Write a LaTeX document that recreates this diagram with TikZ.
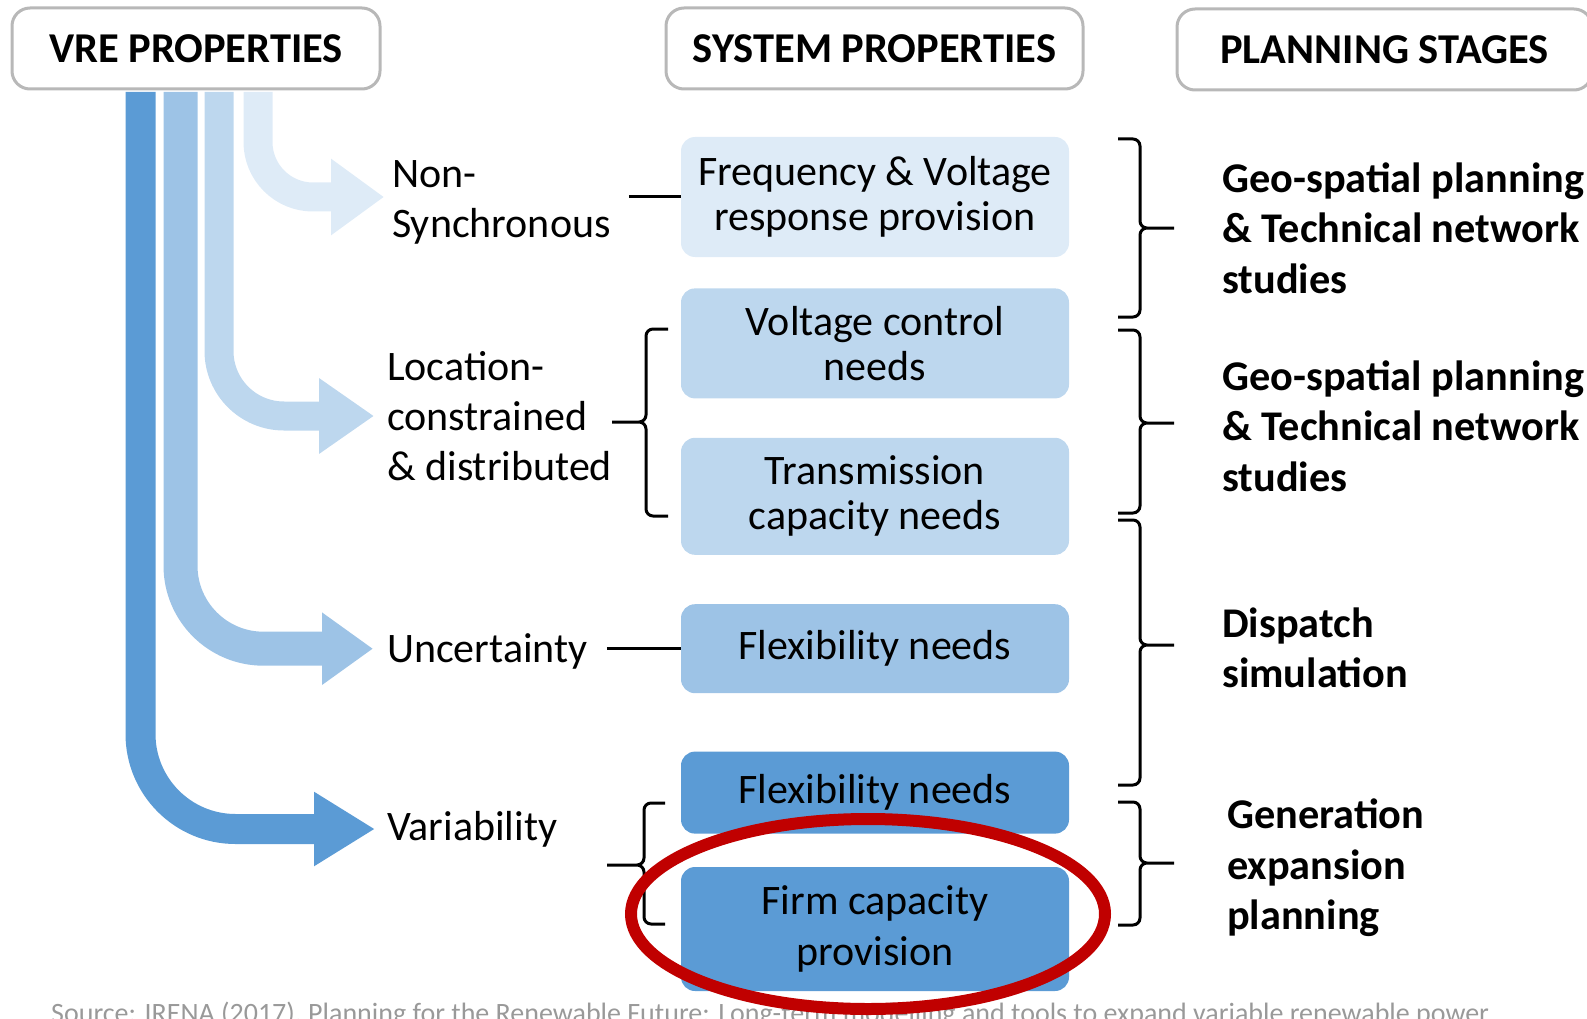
\documentclass[tikz,border=0pt]{standalone}
\usepackage{fontspec}
\setmainfont{Carlito}
\usetikzlibrary{arrows.meta,positioning}

\definecolor{blueA}{HTML}{5B9BD5}
\definecolor{blueB}{HTML}{9DC3E6}
\definecolor{blueC}{HTML}{BDD7EE}
\definecolor{blueD}{HTML}{DEEBF7}
\definecolor{ringred}{HTML}{C00000}

\begin{document}
\begin{tikzpicture}[x=1pt, y=-1pt, >=latex]
        \tikzstyle{header} = [draw=black!28, line width=3pt, rounded corners=18pt, fill=white, minimum height=81pt, inner sep=0pt, font=\fontsize{42.5}{50}\selectfont\bfseries]
        \tikzstyle{need} = [rounded corners=14pt, minimum width=388pt, inner sep=0pt, align=center, font=\fontsize{42}{45}\selectfont]
        \tikzstyle{prop} = [anchor=west, align=left, inner sep=0pt, font=\fontsize{42}{50}\selectfont]
        \tikzstyle{stage} = [anchor=west, align=left, inner sep=0pt, font=\fontsize{42.3}{50.5}\selectfont\bfseries]
        \tikzstyle{link} = [line width=3pt]
        \tikzstyle{brace} = [line width=3pt, rounded corners=7pt]

        \useasboundingbox (0,0) rectangle (1587,1019);
        \clip (0,0) rectangle (1587,1019);

        \node [header, minimum width=368pt] (vre) at (196,48.5) {VRE PROPERTIES};
        \node [header, minimum width=417pt] (sys) at (874.5,48.5) {SYSTEM PROPERTIES};
        \node [header, minimum width=415pt] (plan) at (1384.5,49.5) {PLANNING STAGES};

        \node [need, fill=blueD, minimum height=120pt] (freq) at (875,197) {Frequency \& Voltage\\response provision};
        \node [need, fill=blueC, minimum height=110pt, below=31pt of freq] (volt) {Voltage control\\needs};
        \node [need, fill=blueC, minimum height=117pt, below=39pt of volt] (trans) {Transmission\\capacity needs};
        \node [need, fill=blueB, minimum height=89pt, below=49pt of trans] (flexu) {Flexibility needs};
        \node [need, fill=blueA, minimum height=82pt, below=58pt of flexu] (flexv) {Flexibility needs};
        \node [need, fill=blueA, minimum height=124pt, below=33pt of flexv, font=\fontsize{42}{50.5}\selectfont] (firm) {Firm capacity\\provision};

        \node [prop] (nonsync) at (392,202) {Non-\\Synchronous};
        \node [prop] (loc) at (387,416) {Location-\\constrained\\\& distributed};
        \node [prop] (unc) at (387,651) {Uncertainty};
        \node [prop] (var) at (387,829) {Variability};

        \node [stage] (geo1) at (1222,228) {Geo-spatial planning\\\& Technical network\\studies};
        \node [stage] (geo2) at (1222,426) {Geo-spatial planning\\\& Technical network\\studies};
        \node [stage] (disp) at (1222,648) {Dispatch\\simulation};
        \node [stage] (gen) at (1227,868) {Generation\\expansion\\planning};

        \draw [blueD, line width=29pt, rounded corners=55pt, -{Triangle[length=53pt,width=73pt]}] ([xshift=247.5pt,yshift=-1.5pt]vre.south west) |- ([xshift=-8pt]nonsync.west |- freq.west);
        \draw [blueC, line width=29pt, rounded corners=65pt, -{Triangle[length=55pt,width=72pt]}] ([xshift=208.5pt,yshift=-1.5pt]vre.south west) |- ([xshift=-13pt]loc.west);
        \draw [blueB, line width=34pt, rounded corners=83pt, -{Triangle[length=51pt,width=69pt]}] ([xshift=170pt,yshift=-1.5pt]vre.south west) |- ([xshift=-14pt]unc.west |- flexu.west);
        \draw [blueA, line width=30pt, rounded corners=95pt, -{Triangle[length=61pt,width=70pt]}] ([xshift=130pt,yshift=-1.5pt]vre.south west) |- ([xshift=-12pt]var.west);

        \draw [link, shorten <=18pt] (nonsync.east |- freq.west) -- (freq.west);
        \draw [link, shorten <=19pt] (unc.east |- flexu.west) -- (flexu.west);

        \draw [brace] (668,329) -- (646,329) -- (646,422) -- (612,422) (668,516) -- (646,516) -- (646,422) -- (612,422);
        \draw [brace] (665,803) -- (644,803) -- (644,865) -- (607,865) (665,924) -- (644,924) -- (644,865) -- (607,865);

        \draw [brace] (1118,139) -- (1140,139) -- (1140,228) -- (1174,228) (1118,317) -- (1140,317) -- (1140,228) -- (1174,228);
        \draw [brace] (1118,330) -- (1140,330) -- (1140,423) -- (1174,423) (1118,513) -- (1140,513) -- (1140,423) -- (1174,423);
        \draw [brace] (1118,520) -- (1140,520) -- (1140,645) -- (1174,645) (1118,785) -- (1140,785) -- (1140,645) -- (1174,645);
        \draw [brace] (1118,802) -- (1140,802) -- (1140,863) -- (1174,863) (1118,925) -- (1140,925) -- (1140,863) -- (1174,863);

        \node [anchor=base west, inner sep=0pt, text=black!40, font=\fontsize{28}{32}\selectfont] (src) at (51,1022) {Source: IRENA (2017), Planning for the Renewable Future: Long-term modelling and tools to expand variable renewable power};

        \draw [ringred, line width=12pt] (868,914) ellipse [x radius=237pt, y radius=95pt];
\end{tikzpicture}
\end{document}
